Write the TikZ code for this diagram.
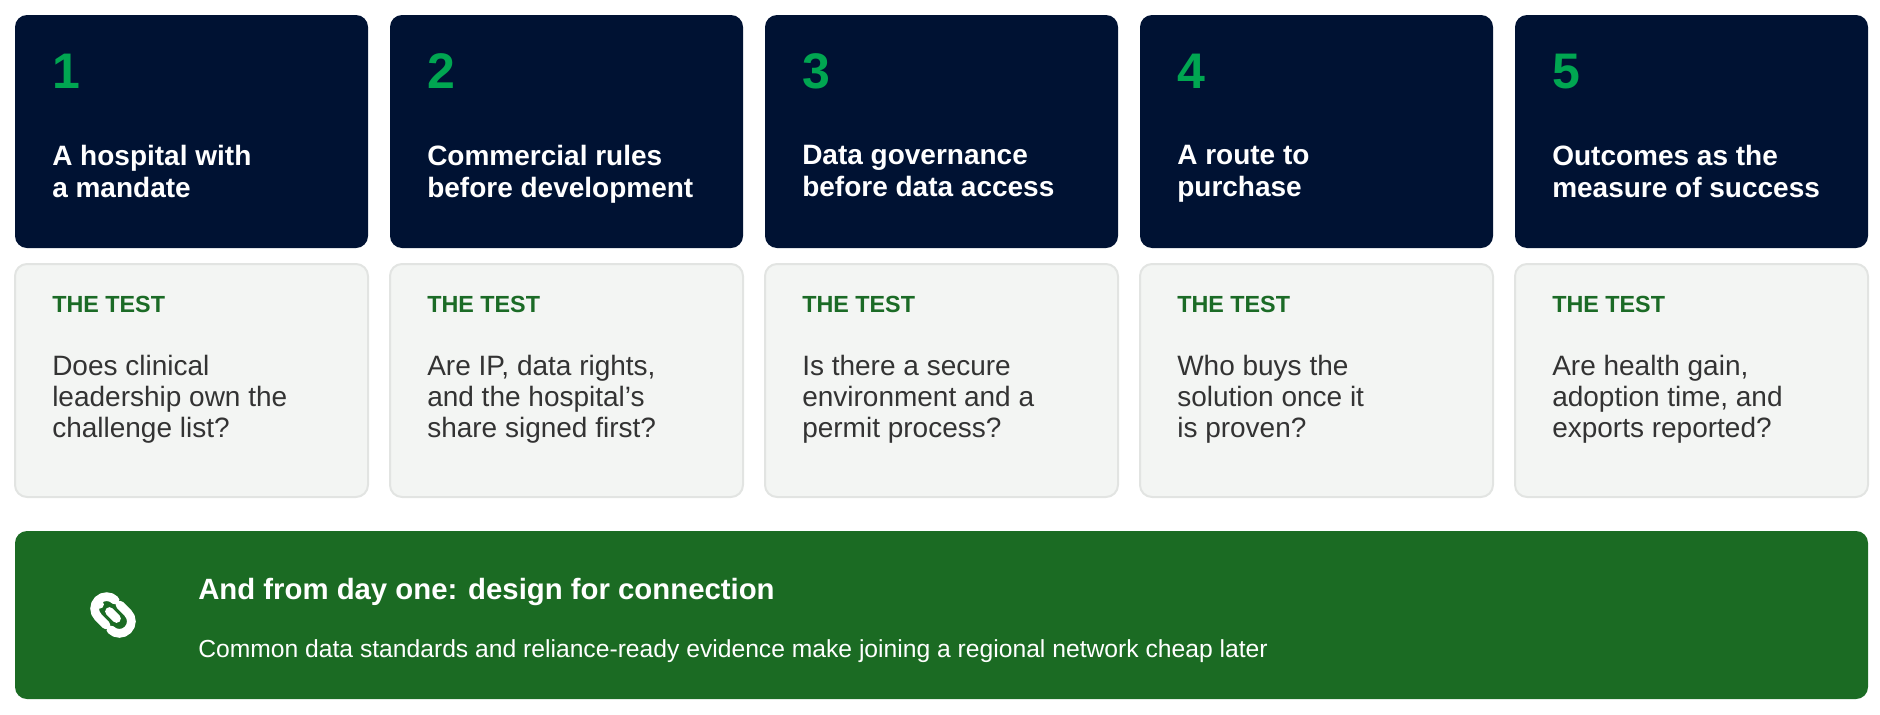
\documentclass[tikz,border=0pt]{standalone}
\usepackage{fontspec}
\setmainfont{Liberation Sans}
\definecolor{navy}{HTML}{001233}
\definecolor{numgreen}{HTML}{00A651}
\definecolor{testgreen}{HTML}{1B6B26}
\definecolor{cardbg}{HTML}{F3F5F3}
\definecolor{cardbd}{HTML}{E2E4E2}
\definecolor{banner}{HTML}{1B6B23}
\definecolor{bodytxt}{HTML}{333333}
\begin{document}
\begin{tikzpicture}[x=0.75pt,y=-0.75pt,
  top/.style={fill=navy,rounded corners=9pt},
  bot/.style={fill=cardbg,draw=cardbd,line width=1.5pt,rounded corners=9pt},
  num/.style={anchor=base west,inner sep=0,text=numgreen,font=\bfseries\fontsize{37.5}{40}\selectfont},
  ttl/.style={anchor=north west,inner sep=0,align=left,text=white,font=\bfseries\fontsize{21}{24}\selectfont},
  lbl/.style={anchor=base west,inner sep=0,text=testgreen,font=\bfseries\fontsize{17.5}{20}\selectfont},
  bdy/.style={anchor=north west,inner sep=0,align=left,text=bodytxt,font=\fontsize{21}{23.3}\selectfont}]
\useasboundingbox (0,0) rectangle (1880,714);
\foreach \i/\t/\b in {
 1/{A hospital with\\a mandate}/{Does clinical\\leadership own the\\challenge list?},
 2/{Commercial rules\\before development}/{Are IP, data rights,\\and the hospital's\\share signed first?},
 3/{Data governance\\before data access}/{Is there a secure\\environment and a\\permit process?},
 4/{A route to\\purchase}/{Who buys the\\solution once it\\is proven?},
 5/{Outcomes as the\\measure of success}/{Are health gain,\\adoption time, and\\exports reported?}}{
  \pgfmathsetmacro{\xx}{15+375*(\i-1)}
  \fill[top] (\xx,15) rectangle ++(353,233);
  \draw[bot] (\xx,264) rectangle ++(353,233);
  \node[num] (n\i) at (\xx+37,88) {\i};
  \node[ttl] (t\i) at (\xx+37,144.5) {\t};
  \node[lbl] (l\i) at (\xx+37,312) {THE TEST};
  \node[bdy] (b\i) at (\xx+37,354.5) {\b};
}
\fill[banner,rounded corners=9pt] (15,531) rectangle (1868,699);
\node[anchor=base west,inner sep=0,text=white,font=\bfseries\fontsize{22}{26}\selectfont] (bt) at (198,599) {And from day one: design for connection};
\node[anchor=base west,inner sep=0,text=white,font=\fontsize{18.5}{22}\selectfont] (bs) at (198,657) {Common data standards and reliance-ready evidence make joining a regional network cheap later};
\begin{scope}[shift={(113,615)},rotate=-45,white,line width=6.5pt,line cap=round]
  \draw (-9,-12) arc (270:90:12) -- (2,12);
  \draw (-17,2) -- (-17,2);
  \draw (9,12) arc (90:-90:12) -- (-2,-12);
  \draw (-5,0) -- (5,0);
\end{scope}
\end{tikzpicture}
\end{document}
